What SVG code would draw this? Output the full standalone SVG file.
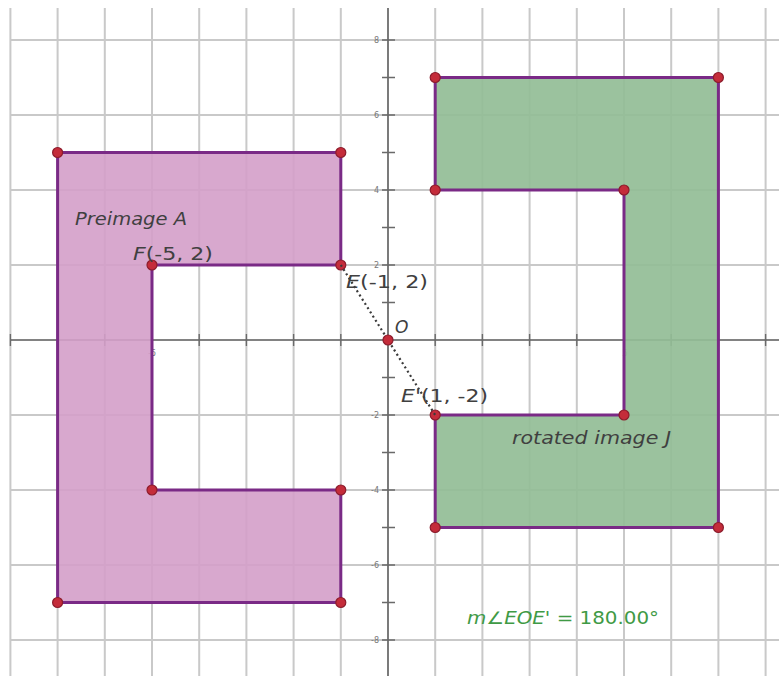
<svg xmlns="http://www.w3.org/2000/svg" width="779" height="676" viewBox="0 0 779 676">
<style>
.grid{stroke:#c9c9c9;stroke-width:2;fill:none}
.axis{stroke:#5a5a5a;stroke-width:1.6;fill:none}
.tick{stroke:#6a6a6a;stroke-width:1.4}
.num{font-family:"DejaVu Sans",sans-serif;font-size:8px;fill:#777}
.shape{stroke:#7a2a86;stroke-width:3;stroke-linejoin:miter}
.pt{fill:#c42c3a;stroke:#8c1c2c;stroke-width:1.2}
.lbl{font-family:"DejaVu Sans","Liberation Sans",sans-serif;font-size:17px;fill:#404040}
.it{font-style:italic}
.meas{font-family:"DejaVu Sans","Liberation Sans",sans-serif;font-size:17px;fill:#3f9a45}
</style>
<rect width="779" height="676" fill="#ffffff"/>
<g id="grid" class="grid">
<path d="M10.4 8V676M57.6 8V676M104.8 8V676M152 8V676M199.2 8V676M246.4 8V676M293.6 8V676M340.8 8V676M435.2 8V676M482.4 8V676M529.6 8V676M576.8 8V676M624 8V676M671.2 8V676M718.4 8V676M765.6 8V676"/>
<path d="M10 40H779M10 115H779M10 190H779M10 265H779M10 415H779M10 490H779M10 565H779M10 640H779"/>
</g>
<g id="axes">
<path class="axis" d="M10 340H779M388 8V676"/>
<path class="tick" d="M382 77.5H395M382 152.5H395M382 227.5H395M382 302.5H395M382 377.5H395M382 452.5H395M382 527.5H395M382 602.5H395M382 40H395M382 115H395M382 190H395M382 265H395M382 415H395M382 490H395M382 565H395M382 640H395"/>
<path class="tick" d="M10.4 334V346M57.6 334V346M104.8 334V346M152 334V346M199.2 334V346M246.4 334V346M293.6 334V346M340.8 334V346M435.2 334V346M482.4 334V346M529.6 334V346M576.8 334V346M624 334V346M671.2 334V346M718.4 334V346M765.6 334V346"/>
<g class="num">
<text x="379" y="43" text-anchor="end">8</text>
<text x="379" y="118" text-anchor="end">6</text>
<text x="379" y="193" text-anchor="end">4</text>
<text x="379" y="268" text-anchor="end">2</text>
<text x="379" y="418" text-anchor="end">-2</text>
<text x="379" y="493" text-anchor="end">-4</text>
<text x="379" y="568" text-anchor="end">-6</text>
<text x="379" y="643" text-anchor="end">-8</text>
<text x="152" y="356" text-anchor="middle">-5</text>
<text x="625" y="356" text-anchor="middle">5</text>
</g>
</g>
<g id="preimage-A">
<polygon class="shape" fill="#d49fc9" fill-opacity="0.9" points="57.6,152.5 340.8,152.5 340.8,265 152,265 152,490 340.8,490 340.8,602.5 57.6,602.5"/>
<circle class="pt" cx="57.6" cy="152.5" r="5"/>
<circle class="pt" cx="340.8" cy="152.5" r="5"/>
<circle class="pt" cx="340.8" cy="265" r="5"/>
<circle class="pt" cx="152" cy="265" r="5"/>
<circle class="pt" cx="152" cy="490" r="5"/>
<circle class="pt" cx="340.8" cy="490" r="5"/>
<circle class="pt" cx="340.8" cy="602.5" r="5"/>
<circle class="pt" cx="57.6" cy="602.5" r="5"/>
<text class="lbl it" x="75" y="225" textLength="112" lengthAdjust="spacingAndGlyphs">Preimage A</text>
</g>
<g id="image-J">
<polygon class="shape" fill="#93bd96" fill-opacity="0.92" points="435.2,77.5 718.4,77.5 718.4,527.5 435.2,527.5 435.2,415 624,415 624,190 435.2,190"/>
<circle class="pt" cx="435.2" cy="77.5" r="5"/>
<circle class="pt" cx="718.4" cy="77.5" r="5"/>
<circle class="pt" cx="718.4" cy="527.5" r="5"/>
<circle class="pt" cx="435.2" cy="527.5" r="5"/>
<circle class="pt" cx="435.2" cy="415" r="5"/>
<circle class="pt" cx="624" cy="415" r="5"/>
<circle class="pt" cx="624" cy="190" r="5"/>
<circle class="pt" cx="435.2" cy="190" r="5"/>
<text class="lbl it" x="512" y="444" textLength="159" lengthAdjust="spacingAndGlyphs">rotated image J</text>
</g>
<g id="connectors">
<path d="M340.8 265L388 340L435.2 415" fill="none" stroke="#3a3a3a" stroke-width="2.2" stroke-dasharray="2 3"/>
</g>
<g id="center-O">
<circle class="pt" cx="388" cy="340" r="5"/>
<text class="lbl it" x="395" y="333" font-size="16">O</text>
</g>
<g id="labels">
<text class="lbl" x="133" y="260" textLength="80" lengthAdjust="spacingAndGlyphs"><tspan font-style="italic">F</tspan>(-5, 2)</text>
<text class="lbl" x="346" y="288" textLength="82" lengthAdjust="spacingAndGlyphs"><tspan font-style="italic">E</tspan>(-1, 2)</text>
<text class="lbl" x="401" y="402" textLength="87" lengthAdjust="spacingAndGlyphs"><tspan font-style="italic">E'</tspan>(1, -2)</text>
<text class="meas" x="467" y="624" textLength="192" lengthAdjust="spacingAndGlyphs"><tspan font-style="italic">m</tspan>∠<tspan font-style="italic">EOE'</tspan> = 180.00°</text>
</g>
</svg>
